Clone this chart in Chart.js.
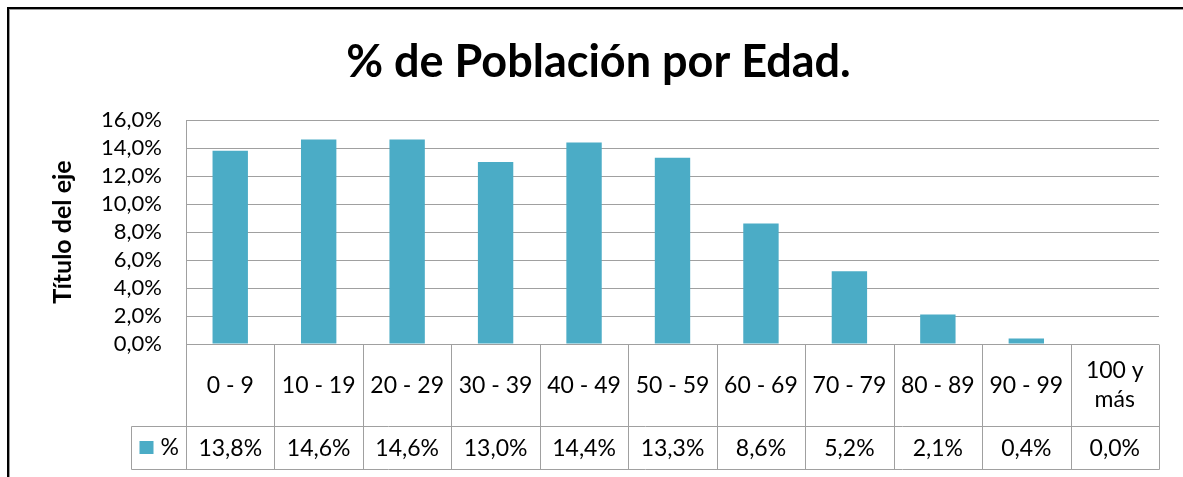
<!DOCTYPE html>
<html lang="es">
<head>
<meta charset="utf-8">
<title>% de Población por Edad.</title>
<script src="https://cdn.jsdelivr.net/npm/chart.js@4.4.1/dist/chart.umd.min.js"></script>
<style>
  html, body { margin: 0; padding: 0; background: #fff; }
  #wrap { position: relative; width: 1183px; height: 477px; overflow: hidden; }
  #frame {
    position: absolute; left: 7px; top: 7px; width: 1200px; height: 520px;
    border: 2px solid #000; box-shadow: inset 1px 1px 0 #9a9a9a;
    pointer-events: none;
  }
  canvas { position: absolute; left: 0; top: 0; }
</style>
</head>
<body>
<div id="wrap">
  <canvas id="chart" width="1183" height="477"></canvas>
  <div id="frame"></div>
</div>
<script>
  "use strict";

  const categories = [["0 - 9"], ["10 - 19"], ["20 - 29"], ["30 - 39"], ["40 - 49"], ["50 - 59"],
                      ["60 - 69"], ["70 - 79"], ["80 - 89"], ["90 - 99"], ["100 y", "más"]];
  const values = [13.8, 14.6, 14.6, 13.0, 14.4, 13.3, 8.6, 5.2, 2.1, 0.4, 0.0];
  const seriesName = "%";
  const yTicks = [0, 2, 4, 6, 8, 10, 12, 14, 16];

  const barColor = "#4bacc6";
  const lineColor = "#a0a0a0";
  const fontFamily = "Lato, 'Liberation Sans', sans-serif";

  const fmt = v => v.toFixed(1).replace(".", ",") + "%";

  // draws the Excel-style data table under the plot, using the x scale for column edges
  const dataTable = {
    id: "dataTable",
    afterDraw(chart) {
      const c = chart.ctx;
      const x = chart.scales.x;
      const area = chart.chartArea;
      const n = categories.length;
      const colW = (area.right - area.left) / n;
      const top = Math.round(area.bottom) + 0.5;
      const mid = top + 82;
      const bot = top + 125;
      const legLeft = Math.round(area.left) - 55 + 0.5;
      const px = v => Math.round(v) + 0.5;

      c.save();
      c.strokeStyle = lineColor;
      c.lineWidth = 1;
      c.beginPath();
      // horizontals
      c.moveTo(legLeft, mid); c.lineTo(px(area.right), mid);
      c.moveTo(legLeft, bot); c.lineTo(px(area.right), bot);
      c.moveTo(legLeft, mid); c.lineTo(legLeft, bot);
      // verticals at category edges
      for (let i = 0; i <= n; i++) {
        const xe = px(x.getPixelForValue(i) - colW / 2);
        c.moveTo(xe, top); c.lineTo(xe, bot);
      }
      c.stroke();

      c.fillStyle = "#000";
      c.font = "23px " + fontFamily;
      c.textAlign = "center";
      c.textBaseline = "middle";
      categories.forEach((lines, i) => {
        const cx = x.getPixelForValue(i);
        const cy = (top + mid) / 2;
        const lh = 29;
        lines.forEach((t, k) => {
          c.fillText(t, cx, cy + (k - (lines.length - 1) / 2) * lh);
        });
        c.fillText(fmt(values[i]), cx, (mid + bot) / 2 + 1);
      });

      // legend key
      c.fillStyle = barColor;
      c.fillRect(legLeft + 8, (mid + bot) / 2 - 7, 14, 13);
      c.fillStyle = "#000";
      c.textAlign = "left";
      c.fillText(seriesName, legLeft + 29, (mid + bot) / 2);
      c.restore();
    }
  };

  new Chart(document.getElementById("chart"), {
    type: "bar",
    data: {
      labels: categories,
      datasets: [{
        label: seriesName,
        data: values,
        backgroundColor: barColor,
        borderWidth: 0,
        barPercentage: 0.4,
        categoryPercentage: 1
      }]
    },
    options: {
      responsive: false,
      animation: false,
      layout: { padding: { left: 38, right: 24, top: 0, bottom: 133 } },
      plugins: {
        legend: { display: false },
        tooltip: { enabled: false },
        title: {
          display: true,
          text: "% de Población por Edad.",
          color: "#000",
          font: { family: fontFamily, size: 45, weight: "bold" },
          padding: { top: 35, bottom: 31 }
        }
      },
      scales: {
        x: { display: false },
        y: {
          min: 0,
          max: 16,
          afterFit: s => { s.width = 148; },
          afterBuildTicks: s => { s.ticks = yTicks.map(v => ({ value: v })); },
          grid: { color: lineColor, drawTicks: false },
          border: { color: lineColor },
          ticks: {
            autoSkip: false,
            padding: 24,
            color: "#000",
            font: { family: fontFamily, size: 22 },
            callback: v => fmt(v)
          },
          title: {
            display: true,
            text: "Título del eje",
            color: "#000",
            font: { family: fontFamily, size: 25, weight: "bold" },
            padding: { top: 10 }
          }
        }
      }
    },
    plugins: [dataTable]
  });
</script>
</body>
</html>
